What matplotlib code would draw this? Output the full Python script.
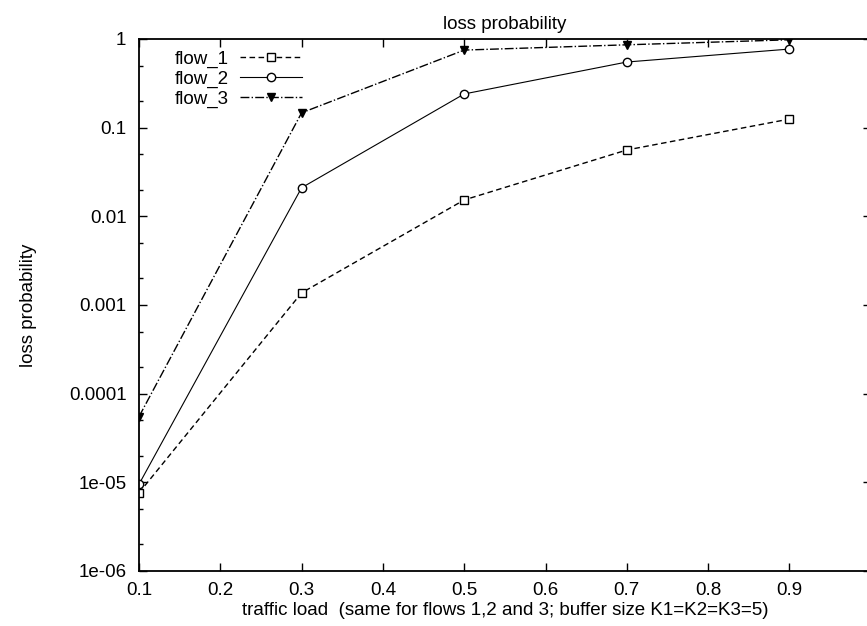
import matplotlib
matplotlib.use("Agg")
import matplotlib.pyplot as plt
from matplotlib.ticker import LogLocator, FixedLocator, FixedFormatter, NullFormatter

plt.rcParams["font.family"] = ["Liberation Sans", "DejaVu Sans"]

# traffic load (same for all flows)
load = [0.1, 0.3, 0.5, 0.7, 0.9]
flow_1 = [7.6e-6, 1.37e-3, 0.0153, 0.056, 0.125]
flow_2 = [9.5e-6, 0.021, 0.24, 0.55, 0.77]
flow_3 = [5.5e-5, 0.147, 0.75, 0.86, 0.98]

x_ticks = [0.1, 0.2, 0.3, 0.4, 0.5, 0.6, 0.7, 0.8, 0.9]
y_ticks = [1e-6, 1e-5, 1e-4, 1e-3, 1e-2, 1e-1, 1]
y_labels = ["1e-06", "1e-05", "0.0001", "0.001", "0.01", "0.1", "1"]

FS = 13.5

fig = plt.figure(figsize=(8.67, 6.26), dpi=100)
ax = fig.add_axes([0.1603, 0.0879, 0.8440, 0.8498])

ax.plot(load, flow_1, "k--", lw=1.0, marker="s", ms=6, mfc="white", mew=1.0,
        dashes=(4, 2.5), label="flow_1")
ax.plot(load, flow_2, "k-", lw=0.8, marker="o", ms=6, mfc="white", mew=1.0,
        label="flow_2")
ax.plot(load, flow_3, "k-.", lw=1.0, marker="v", ms=6, mfc="black", mew=1.0,
        label="flow_3")

ax.set_yscale("log")
ax.set_xlim(0.1, 1.0)
ax.set_ylim(1e-6, 1)

ax.xaxis.set_major_locator(FixedLocator(x_ticks))
ax.set_xticklabels([f"{t:g}" for t in x_ticks])
ax.yaxis.set_major_locator(FixedLocator(y_ticks))
ax.yaxis.set_major_formatter(FixedFormatter(y_labels))
ax.yaxis.set_minor_locator(LogLocator(base=10, subs=(2.0, 5.0)))
ax.yaxis.set_minor_formatter(NullFormatter())

ax.tick_params(which="both", direction="in", top=True, right=True,
               labelsize=FS, width=1.0)
ax.tick_params(axis="x", pad=8)
ax.tick_params(axis="y", pad=9)
ax.tick_params(which="major", length=6)
ax.tick_params(which="minor", length=3)
for sp in ax.spines.values():
    sp.set_linewidth(1.3)

ax.set_title("loss probability", fontsize=FS, pad=7)
ax.set_xlabel("traffic load  (same for flows 1,2 and 3; buffer size K1=K2=K3=5)",
              fontsize=FS, labelpad=2)
ax.set_ylabel("loss probability", fontsize=FS, labelpad=23)

ax.legend(loc="upper left", frameon=False, markerfirst=False, fontsize=FS,
          handlelength=3.3, handletextpad=0.6, borderaxespad=0.2,
          labelspacing=0.16, bbox_to_anchor=(0.033, 1.0))

fig.savefig("out.png", dpi=100)
